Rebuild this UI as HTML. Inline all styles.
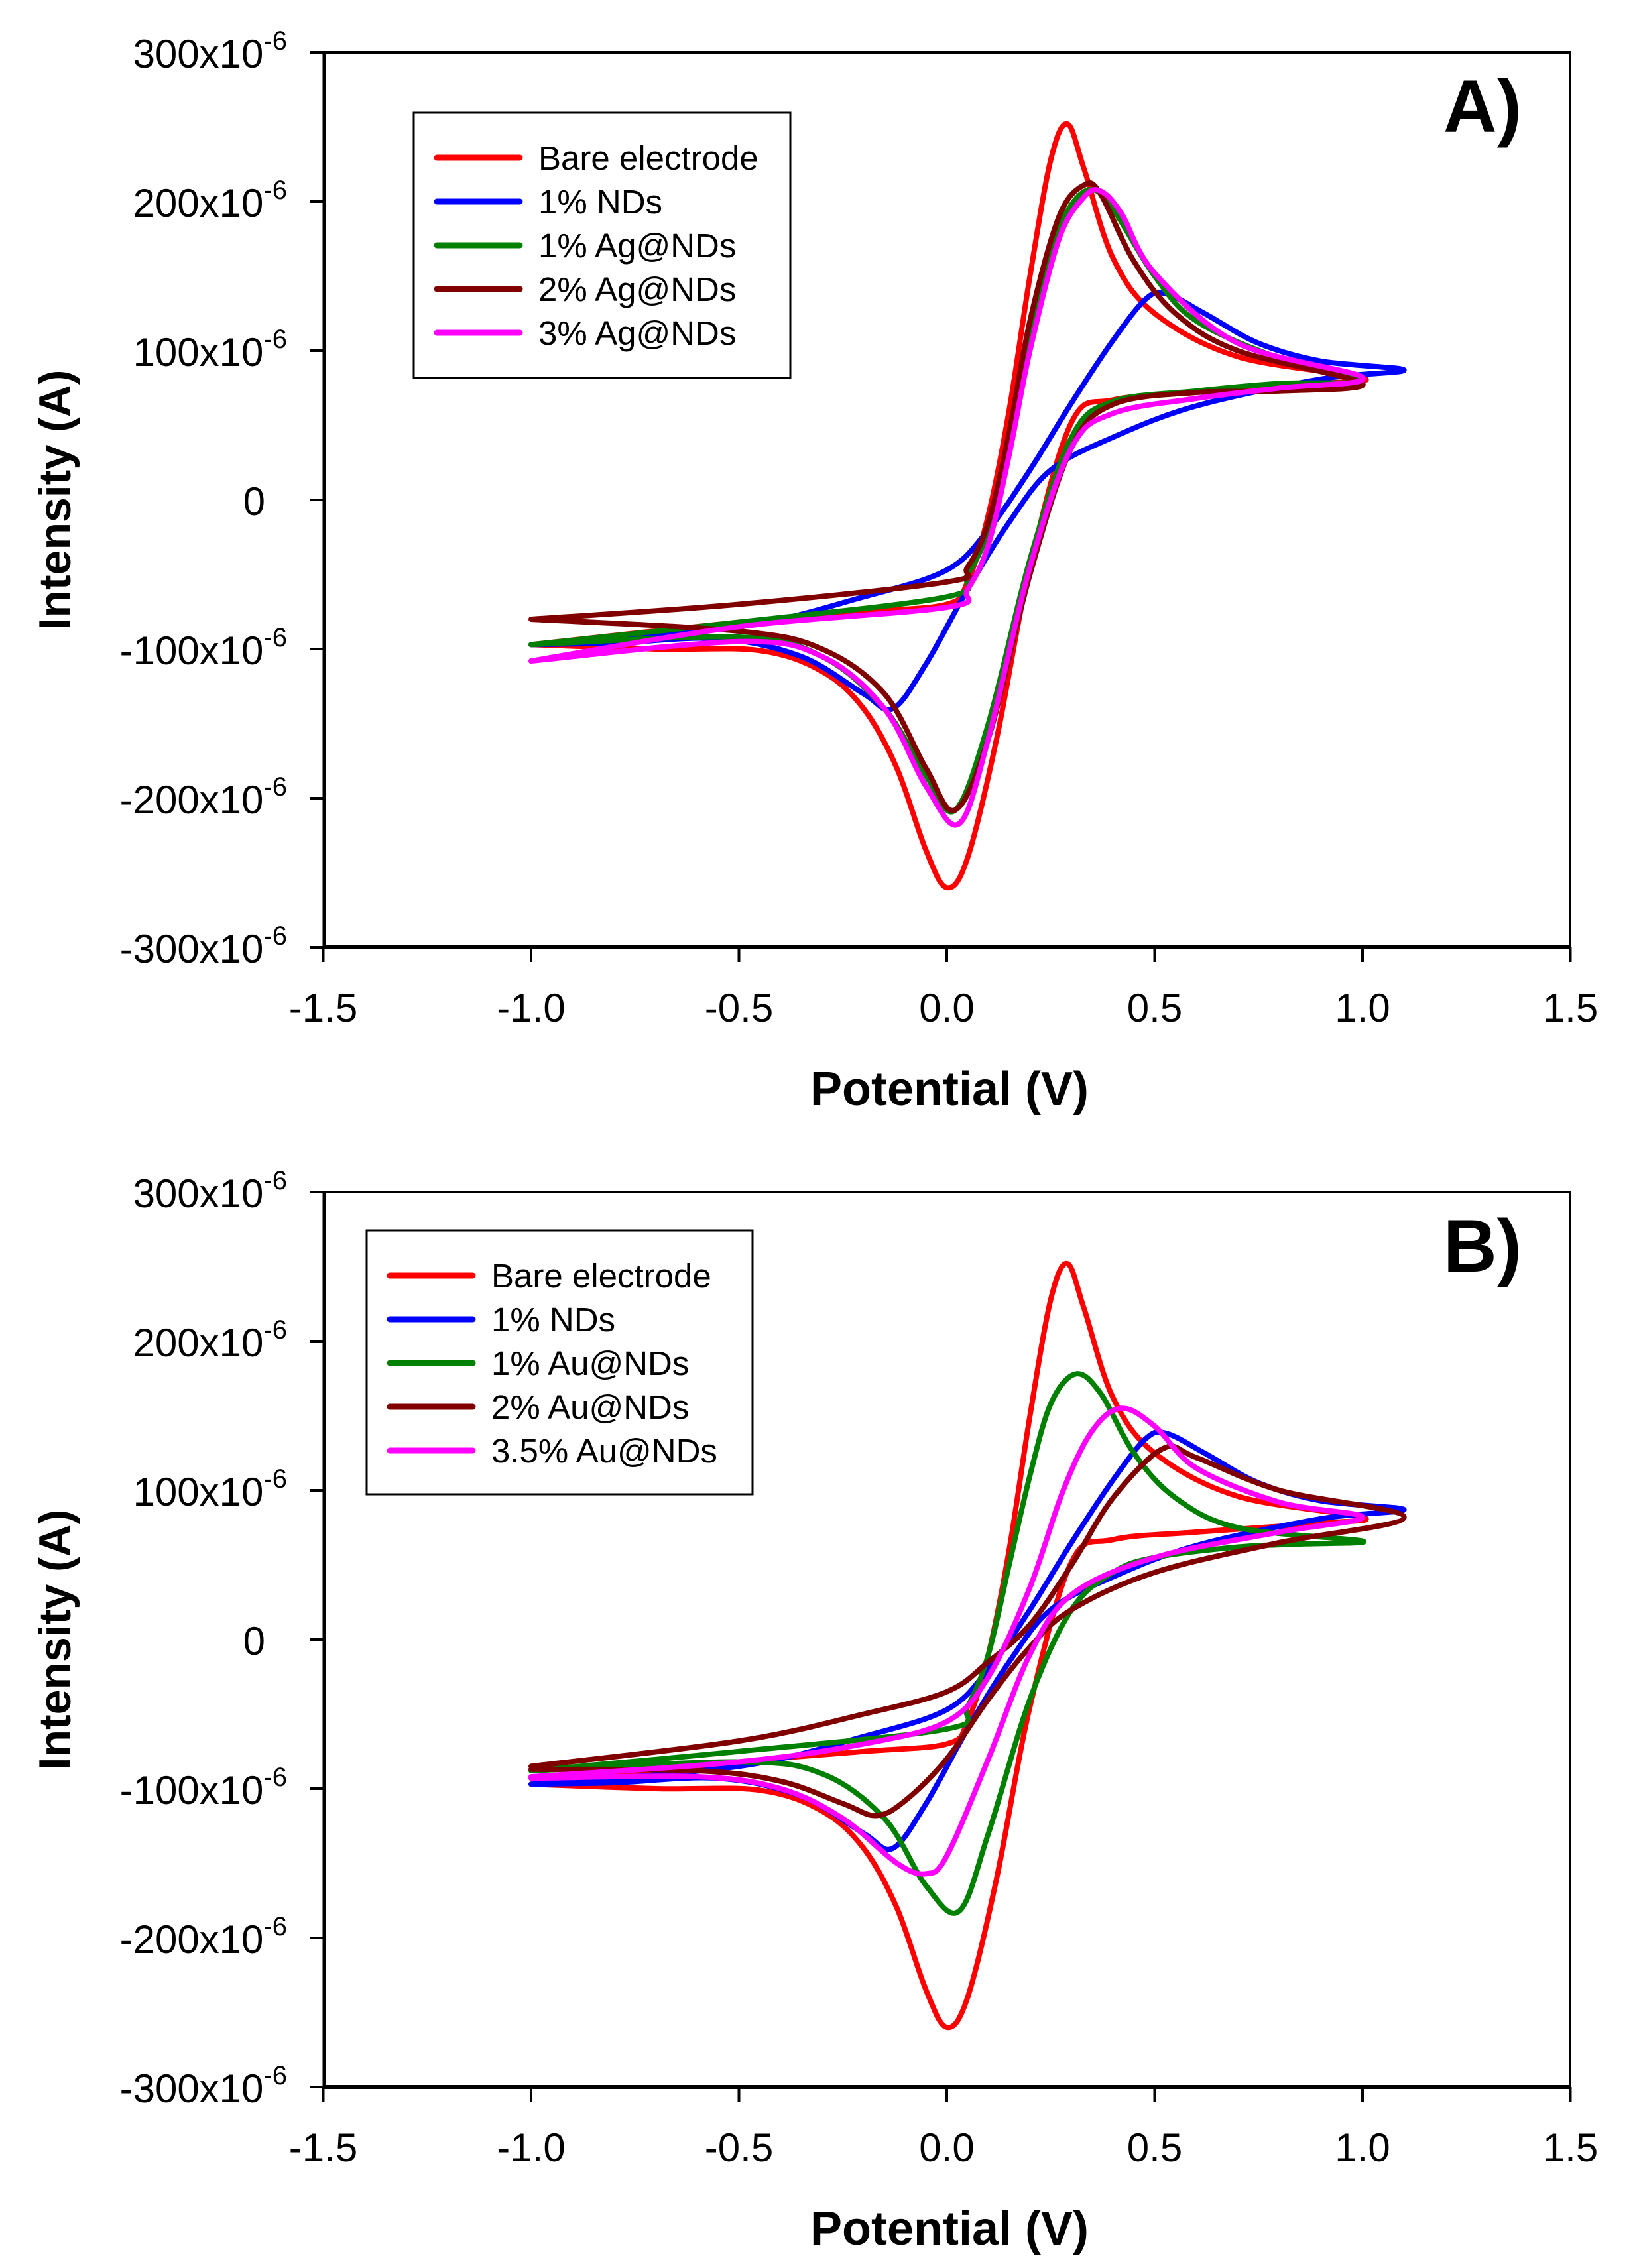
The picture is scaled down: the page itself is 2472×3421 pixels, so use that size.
<!DOCTYPE html>
<html><head><meta charset="utf-8">
<style>html,body{margin:0;padding:0;background:#fff}svg{display:block}</style>
</head><body>
<svg id="s" xmlns="http://www.w3.org/2000/svg" width="2472" height="3421" viewBox="0 0 2472 3421" font-family="Liberation Sans, Arial, sans-serif">
<rect width="2472" height="3421" fill="#fff"/>
<g id="A"></g>
<g id="B"></g>
</svg>
<script>
const NS="http://www.w3.org/2000/svg";
function el(p,t,a,txt){const e=document.createElementNS(NS,t);for(const k in a)e.setAttribute(k,a[k]);if(txt!==undefined)e.textContent=txt;p.appendChild(e);return e;}
function panel(g,top,label,legendBox,legendItems,curves){
  const L=489,R=2368,T=top,B=top+1350;
  const X=v=>1428+627*v, Y=i=>T+675-2.25*i;
  for(const c of curves){
    const pts=c.p.map(q=>[X(q[0]),Y(q[1])]);
    let d="M"+pts[0][0].toFixed(1)+","+pts[0][1].toFixed(1);
    for(let k=0;k<pts.length-1;k++){
      const p0=pts[Math.max(k-1,0)],p1=pts[k],p2=pts[k+1],p3=pts[Math.min(k+2,pts.length-1)];
      const t=6;
      const c1=[p1[0]+(p2[0]-p0[0])/t,p1[1]+(p2[1]-p0[1])/t];
      const c2=[p2[0]-(p3[0]-p1[0])/t,p2[1]-(p3[1]-p1[1])/t];
      d+=" C"+c1.map(v=>v.toFixed(1)).join(",")+" "+c2.map(v=>v.toFixed(1)).join(",")+" "+p2.map(v=>v.toFixed(1)).join(",");
    }
    el(g,"path",{d:d,fill:"none",stroke:c.c,"stroke-width":8,"stroke-linejoin":"round","stroke-linecap":"round"});
  }
  el(g,"rect",{x:L,y:T,width:R-L,height:B-T,fill:"none",stroke:"#000","stroke-width":4});
  el(g,"line",{x1:L,y1:B,x2:R,y2:B,stroke:"#000","stroke-width":6});
  el(g,"line",{x1:L,y1:T,x2:L,y2:B,stroke:"#000","stroke-width":5});
  const yl=[["300",300],["200",200],["100",100],["0",0],["-100",-100],["-200",-200],["-300",-300]];
  for(const [s,v] of yl){
    const y=Y(v);
    el(g,"line",{x1:L-22,y1:y,x2:L,y2:y,stroke:"#000","stroke-width":4});
    const t=el(g,"text",{x:433,y:y+23,"text-anchor":"end","font-size":60});
    if(v===0){t.textContent="0";t.setAttribute("x",400);}
    else{
      el(t,"tspan",{},s+"x10");
      el(t,"tspan",{"font-size":40,dy:-27},"-6");
    }
  }
  const xl=[-1.5,-1.0,-0.5,0.0,0.5,1.0,1.5];
  for(const v of xl){
    const x=X(v);
    el(g,"line",{x1:x,y1:B,x2:x,y2:B+22,stroke:"#000","stroke-width":4});
    el(g,"text",{x:x,y:B+112,"text-anchor":"middle","font-size":60},v.toFixed(1));
  }
  el(g,"text",{x:1432,y:B+238,"text-anchor":"middle","font-size":72,"font-weight":"bold"},"Potential (V)");
  el(g,"text",{x:0,y:0,"text-anchor":"middle","font-size":68,"font-weight":"bold",transform:"translate(106,"+(T+675)+") rotate(-90)"},"Intensity (A)");
  el(g,"text",{x:2236,y:T+120,"text-anchor":"middle","font-size":112,"font-weight":"bold"},label);
  const [lx,ly,lw,lh,fy]=legendBox;
  el(g,"rect",{x:lx,y:ly,width:lw,height:lh,fill:"#fff",stroke:"#000","stroke-width":3});
  legendItems.forEach((it,i)=>{
    const y=fy+i*66;
    el(g,"line",{x1:lx+35,y1:y,x2:lx+160,y2:y,stroke:it[1],"stroke-width":9,"stroke-linecap":"round"});
    el(g,"text",{x:lx+188,y:y+18,"font-size":51},it[0]);
  });
}
const red={c:"#ff0000",p:[[-1,-97],[-0.5,-82],[-0.2,-75],[0,-70],[0.05,-55],[0.1,-10],[0.15,60],[0.2,150],[0.25,228],[0.29,252],[0.33,222],[0.4,162],[0.5,125],[0.7,96],[1.0,82],
 [0.9,78],[0.6,72],[0.4,67],[0.3,52],[0.2,-45],[0.12,-160],[0.05,-240],[0,-260],[-0.05,-235],[-0.12,-180],[-0.2,-140],[-0.3,-115],[-0.45,-101],[-0.7,-100],[-1,-97]]};
const blue={c:"#0000ff",p:[[-1,-97],[-0.5,-85],[-0.2,-65],[0,-47],[0.1,-20],[0.2,20],[0.3,65],[0.4,107],[0.48,135],[0.53,138],[0.62,125],[0.75,105],[0.9,93],[1.1,87],
 [0.9,81],[0.6,63],[0.4,42],[0.25,20],[0.15,-15],[0.05,-60],[-0.05,-110],[-0.13,-140],[-0.2,-130],[-0.35,-105],[-0.55,-93],[-0.8,-96],[-1,-97]]};
const curvesA=[red,blue,
 {c:"#008000",p:[[-1,-97],[-0.5,-82],[0,-65],[0.05,-50],[0.1,-20],[0.15,40],[0.2,110],[0.25,168],[0.3,198],[0.35,208],[0.4,195],[0.5,150],[0.6,120],[0.8,95],[1.0,80],
  [0.8,78],[0.6,73],[0.4,66],[0.3,42],[0.2,-40],[0.1,-150],[0.02,-208],[-0.05,-185],[-0.15,-140],[-0.3,-105],[-0.5,-92],[-1,-97]]},
 {c:"#800000",p:[[-1,-80],[-0.5,-70],[0,-55],[0.05,-45],[0.1,-15],[0.15,45],[0.2,120],[0.27,190],[0.33,211],[0.37,205],[0.45,160],[0.55,125],[0.7,100],[1.0,78],
  [0.8,73],[0.6,72],[0.4,64],[0.3,35],[0.2,-50],[0.1,-160],[0.02,-208],[-0.05,-180],[-0.15,-130],[-0.3,-100],[-0.5,-88],[-1,-80]]},
 {c:"#ff00ff",p:[[-1,-108],[-0.5,-85],[0,-72],[0.05,-60],[0.1,-30],[0.15,30],[0.2,100],[0.27,175],[0.33,203],[0.37,207],[0.42,192],[0.5,152],[0.7,105],[1.0,82],
  [0.8,75],[0.6,68],[0.4,58],[0.3,35],[0.2,-45],[0.1,-160],[0.03,-217],[-0.05,-192],[-0.15,-140],[-0.3,-105],[-0.5,-95],[-1,-108]]}
];
const curvesB=[red,blue,
 {c:"#008000",p:[[-1,-88],[-0.5,-75],[0,-60],[0.05,-45],[0.1,-10],[0.15,50],[0.2,110],[0.25,158],[0.31,178],[0.37,165],[0.45,125],[0.55,95],[0.7,75],[1.0,66],
  [0.85,64],[0.7,62],[0.5,55],[0.4,45],[0.3,20],[0.2,-40],[0.1,-130],[0.03,-182],[-0.05,-165],[-0.15,-120],[-0.3,-90],[-0.5,-82],[-1,-88]]},
 {c:"#800000",p:[[-1,-85],[-0.5,-68],[-0.2,-50],[0,-35],[0.1,-15],[0.2,10],[0.3,50],[0.4,95],[0.52,128],[0.6,122],[0.8,100],[1.1,82],
  [0.8,65],[0.5,45],[0.3,20],[0.2,-5],[0.1,-40],[0,-80],[-0.1,-108],[-0.17,-118],[-0.25,-110],[-0.4,-95],[-0.6,-88],[-1,-87]]},
 {c:"#ff00ff",p:[[-1,-92],[-0.5,-82],[-0.2,-70],[0,-55],[0.1,-25],[0.2,35],[0.28,100],[0.35,140],[0.42,155],[0.5,143],[0.6,115],[0.8,92],[1.0,82],
  [0.8,72],[0.5,55],[0.3,30],[0.2,-10],[0.1,-80],[0,-145],[-0.05,-157],[-0.12,-150],[-0.25,-120],[-0.4,-100],[-0.6,-92],[-1,-93]]}
];
panel(document.getElementById("A"),79,"A)",[624,170,568,400,238],
 [["Bare electrode","#ff0000"],["1% NDs","#0000ff"],["1% Ag@NDs","#008000"],["2% Ag@NDs","#800000"],["3% Ag@NDs","#ff00ff"]],curvesA);
panel(document.getElementById("B"),1798,"B)",[553,1856,582,398,1924],
 [["Bare electrode","#ff0000"],["1% NDs","#0000ff"],["1% Au@NDs","#008000"],["2% Au@NDs","#800000"],["3.5% Au@NDs","#ff00ff"]],curvesB);
</script>
</body></html>
